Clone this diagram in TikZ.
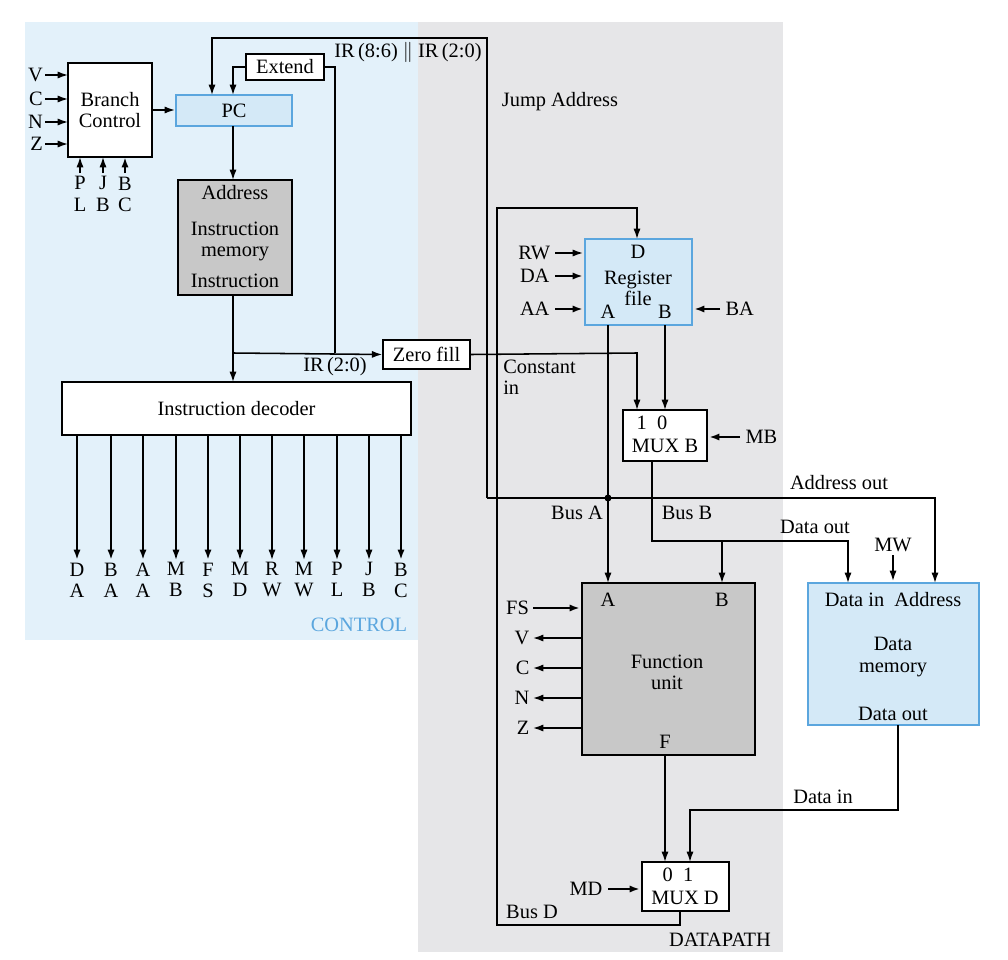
\documentclass[tikz,border=0pt]{standalone}
\usepackage{fontspec}
\setmainfont{Liberation Serif}
\usetikzlibrary{arrows.meta,fit}
\definecolor{ctrlbg}{HTML}{E3F1FA}
\definecolor{dpbg}{HTML}{E6E6E8}
\definecolor{blufill}{HTML}{D4E9F7}
\definecolor{bluline}{HTML}{5BA6DE}
\definecolor{grayfill}{HTML}{C8C8C8}
\tikzset{
	box/.style={draw,line width=1.1pt,inner sep=0pt,fill=white},
	bluebox/.style={box,draw=bluline,fill=blufill,line width=1.5pt},
	graybox/.style={box,fill=grayfill},
	lbl/.style={inner sep=0pt,font=\myfont,align=center},
	wire/.style={line width=1.1pt,-{Latex[length=2.6mm,width=1.8mm]}},
	bus/.style={line width=1.9pt,-{Latex[length=2.6mm,width=1.8mm]}},
	line/.style={line width=1.1pt},
}
\newcommand{\myfont}{\fontsize{14.5}{15}\selectfont}

\begin{document}
\begin{tikzpicture}[x=0.025cm,y=-0.025cm]

\useasboundingbox (0,0) rectangle (1008,960);

% backgrounds
\fill[ctrlbg] (25,22) rectangle (418,640);
\fill[dpbg] (418,22) rectangle (783,952);
\node[lbl,text=bluline] (ctrl) at (359,625) {CONTROL};
\node[lbl] (dp) at (720,940) {DATAPATH};

% control boxes
\node[box,fit={(68,63) (152,157)}] (bc) {};
\node[lbl] at (bc.center) {Branch\\Control};
\node[bluebox,fit={(176,95) (292,126)}] (pc) {};
\node[lbl] at (pc.center) {PC};
\node[box,fit={(246,54) (324,80)}] (ext) {};
\node[lbl] at (ext.center) {Extend};
\node[graybox,fit={(178,180) (292,295)}] (imem) {};
\node[lbl] at (235,193) {Address};
\node[lbl] at (235,241) {Instruction\\memory};
\node[lbl] at (235,281) {Instruction};
\node[box,fit={(383,340) (470,369)}] (zf) {};
\node[lbl] at (zf.center) {Zero fill};
\node[box,fit={(62,382) (411,435)}] (dec) {};
\node[lbl] at (dec.center) {Instruction decoder};

% branch control inputs
\foreach \s/\y in {V/75,C/99,N/122,Z/144}
	\draw[wire] (45,\y) node[lbl,left=1pt] {\s} -- (68,\y);
\foreach \a/\b/\x/\w in {P/L/80/wire,J/B/103/wire,B/C/125/bus}
	\draw[\w] (\x,173) node[lbl,below=2pt] {\a\\\b} -- (\x,157);

% control paths
\draw[wire] (bc.east |- 0,110) -- (pc.west |- 0,110);
\draw[wire] (233,126) -- (233,180);
\draw[wire] (ext.west) -- (233,67) -- (233,95);
\draw[line] (ext.east) -- (335,67) -- (335,353);
\draw[wire] (233,295) -- (233,382);
\draw[wire] (233,353) -- (zf.west);
\node[lbl] (ir20) at (335,367) {IR\,(2:0)};
\draw[wire] (487,498) -- (487,38) -- (212,38) -- (212,95);
\node[lbl] (ir86) at (408,52) {IR\,(8:6) $\|$ IR\,(2:0)};
\node[lbl] (jmp) at (560,102) {Jump Address};

% decoder outputs
\foreach \x/\a/\b/\w in {77/D/A/bus,111/B/A/bus,143/A/A/bus,176/M/B/wire,208/F/S/bus,240/M/D/wire,272/R/W/wire,304/M/W/wire,337/P/L/wire,369/J/B/wire,401/B/C/bus}
	\draw[\w] (\x,435) -- (\x,560) node[lbl,below=1pt] {\a\\\b};

% datapath boxes
\node[bluebox,fit={(585,239) (692,325)}] (rf) {};
\node[lbl] at (638,252) {D};
\node[lbl] at (638,288) {Register\\file};
\node[lbl] at (608,312) {A};
\node[lbl] at (665,312) {B};
\node[box,fit={(623,410) (707,461)}] (muxb) {};
\node[lbl] at (652,423) {1\enspace 0};
\node[lbl] at (665,446) {MUX B};
\node[graybox,fit={(582,583) (755,755)}] (fu) {};
\node[lbl] at (608,600) {A};
\node[lbl] at (722,600) {B};
\node[lbl] at (667,672) {Function\\unit};
\node[lbl] at (665,742) {F};
\node[bluebox,fit={(808,583) (979,725)}] (dmem) {};
\node[lbl] at (893,600) {Data in\enspace Address};
\node[lbl] at (893,657) {Data\\memory};
\node[lbl] at (893,714) {Data out};
\node[box,fit={(642,862) (729,911)}] (muxd) {};
\node[lbl] at (678,875) {0\enspace 1};
\node[lbl] at (685,898) {MUX D};

% register file controls
\draw[wire] (555,253) node[lbl,left=3pt] {RW} -- (583,253);
\draw[bus] (555,276) node[lbl,left=3pt] {DA} -- (583,276);
\draw[bus] (555,309) node[lbl,left=3pt] {AA} -- (583,309);
\draw[bus] (720,309) node[lbl,right=3pt] {BA} -- (694,309);
\draw[bus] (740,437) node[lbl,right=3pt] {MB} -- (709,437);
\draw[wire] (893,555) node[lbl,above=2pt] {MW} -- (893,581);
\draw[bus] (608,889) node[lbl,left=3pt] {MD} -- (640,889);
\draw[bus] (533,608) node[lbl,left=2pt] {FS} -- (580,608);
\foreach \s/\y in {V/638,C/668,N/698,Z/728}
	\draw[wire] (582,\y) -- (533,\y) node[lbl,left=2pt] {\s};

% buses
\draw[wire] (zf.east) -- (637,353) -- (637,410);
\node[lbl,align=left,anchor=north west] (cin) at (503,360) {Constant\\in};
\draw[wire] (608,325) -- (608,583);
\fill (608,498) circle (3.5);
\node[lbl] (busa) at (577,513) {Bus A};
\draw[wire] (487,498) -- (935,498) -- (935,583);
\node[lbl] (aout) at (839,483) {Address out};
\draw[wire] (665,325) -- (665,410);
\draw[wire] (652,461) -- (652,541) -- (848,541) -- (848,583);
\draw[wire] (722,541) -- (722,583);
\node[lbl] (busb) at (687,513) {Bus B};
\node[lbl] (dout) at (815,527) {Data out};
\draw[wire] (665,755) -- (665,862);
\draw[wire] (898,725) -- (898,810) -- (690,810) -- (690,862);
\node[lbl] (din) at (823,797) {Data in};
\draw[wire] (680,911) -- (680,925) -- (497,925) -- (497,208) -- (637,208) -- (637,239);
\node[lbl] (busd) at (532,912) {Bus D};

\end{tikzpicture}
\end{document}
